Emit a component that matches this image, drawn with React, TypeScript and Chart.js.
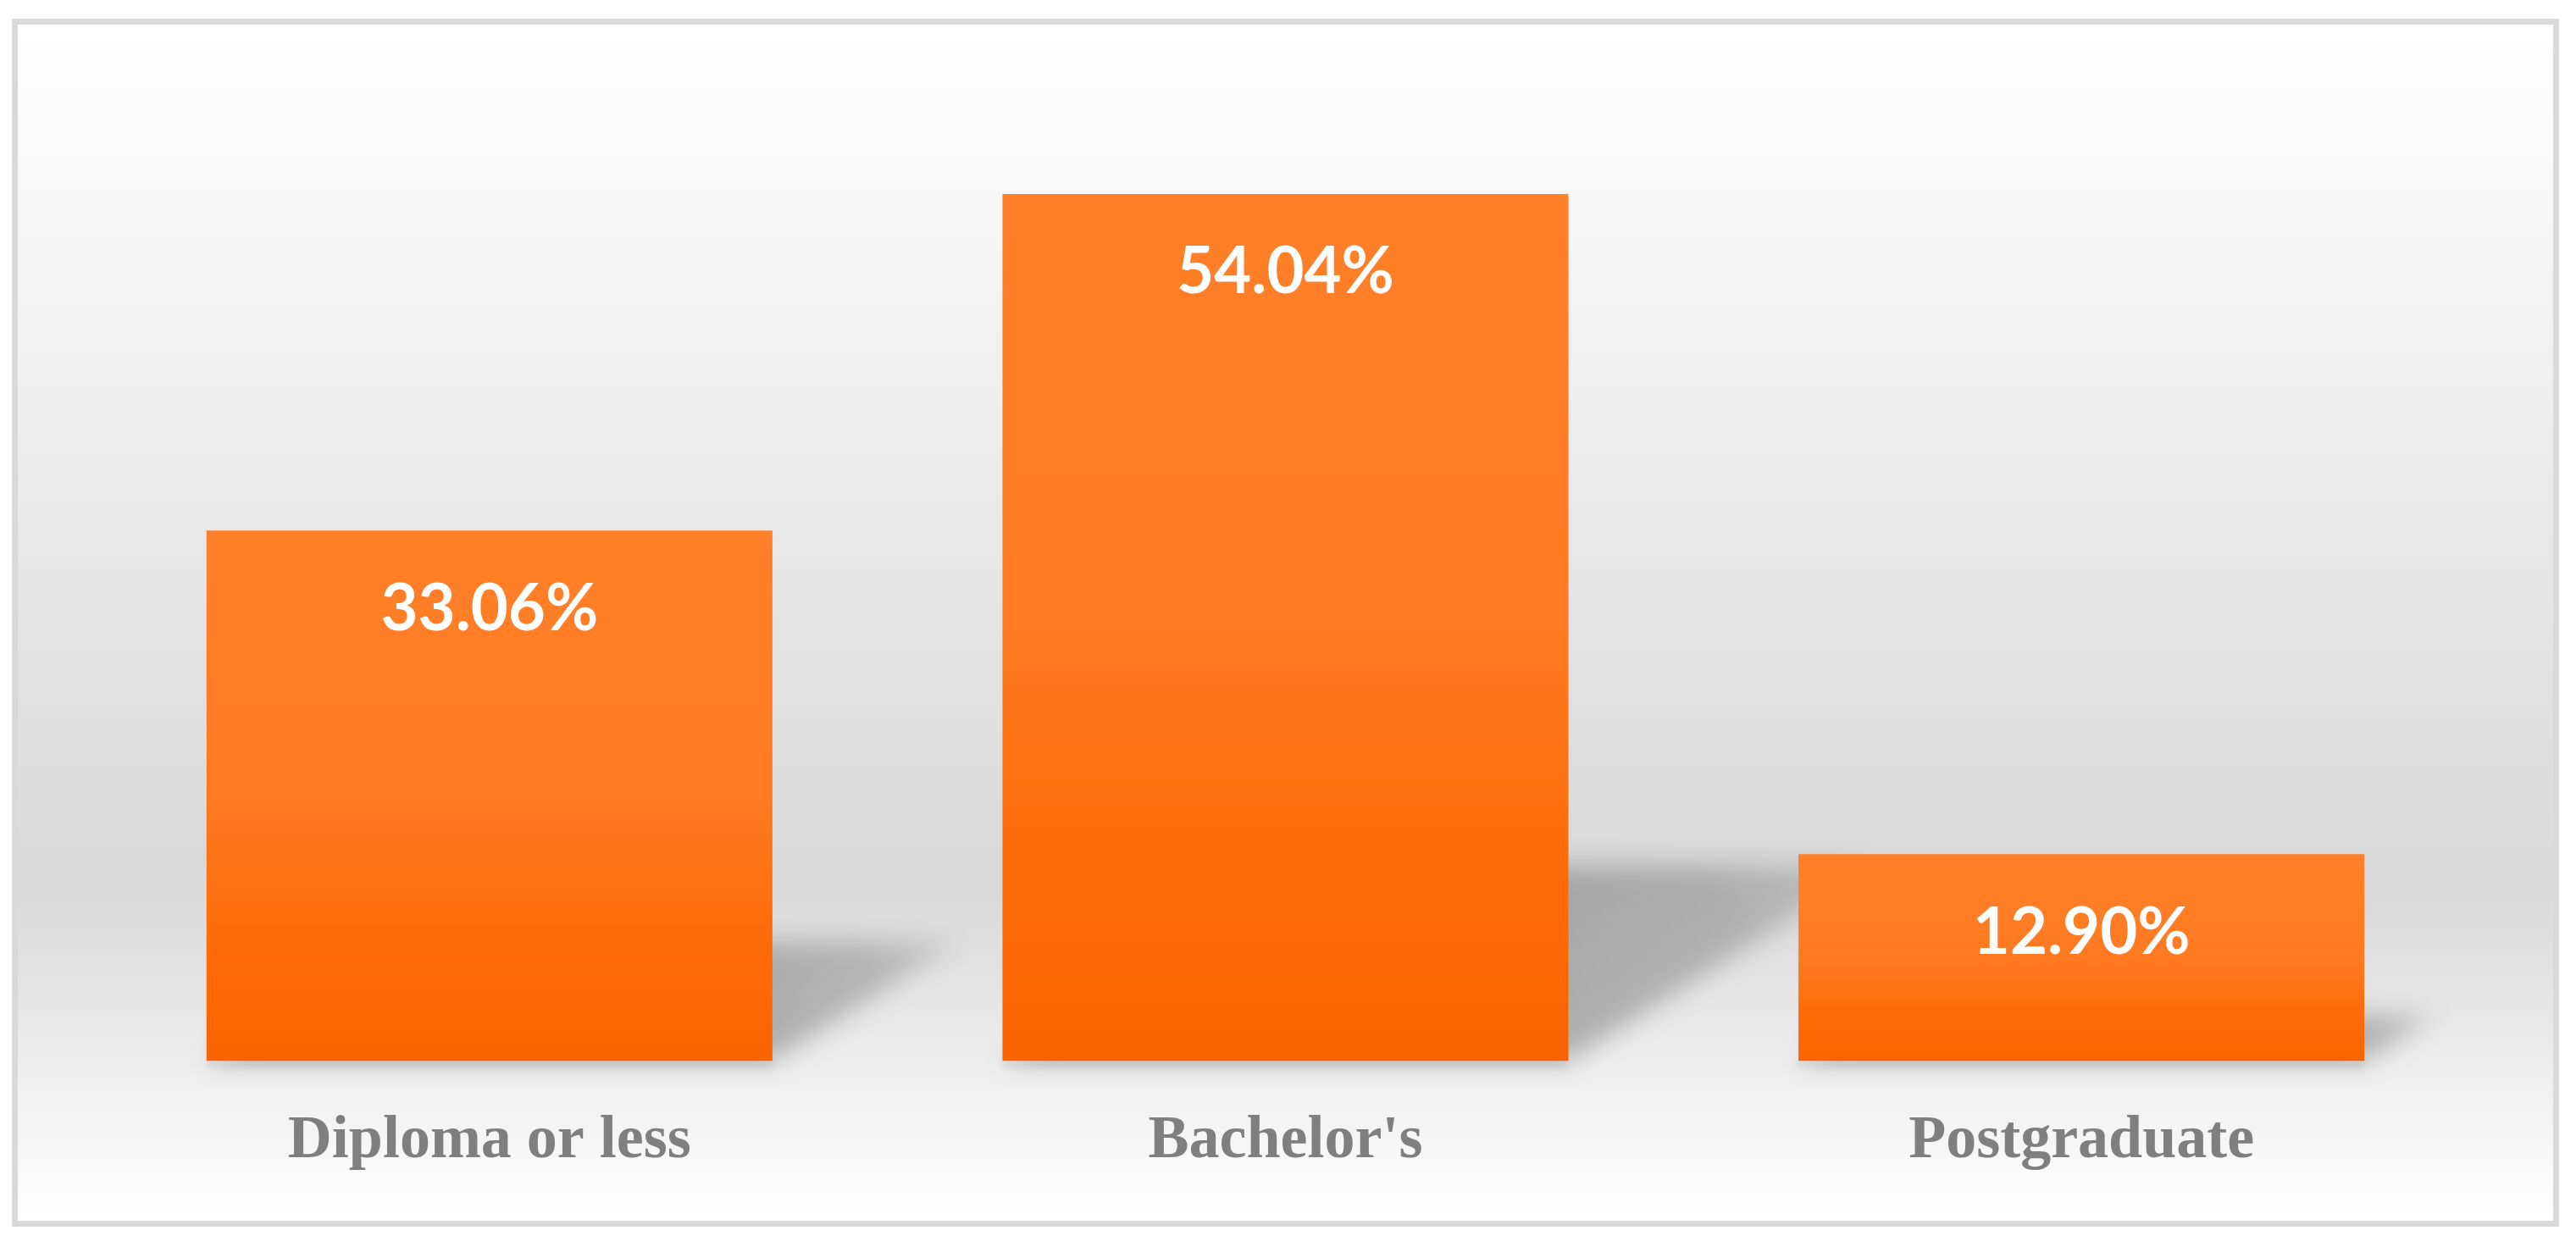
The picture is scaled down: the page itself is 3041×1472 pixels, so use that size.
import React, { useEffect, useRef } from "react";
import { Chart, registerables } from "chart.js";

Chart.register(...registerables);

// ---- Data ----
const categories = ["Diploma or less", "Bachelor's", "Postgraduate"];
const shares = [33.06, 54.04, 12.9];
const valueLabels = ["33.06%", "54.04%", "12.90%"];
const axisMin = 0;
const axisMax = 60;

const W = 3041;
const H = 1472;

const framePlugin = {
  id: "frame",
  beforeDraw(chart: any) {
    const ctx = chart.ctx;
    ctx.save();
    ctx.fillStyle = "#ffffff";
    ctx.fillRect(0, 0, W, H);
    const g = ctx.createLinearGradient(0, 29, 0, 1441);
    g.addColorStop(0, "#ffffff");
    g.addColorStop(0.72, "#d8d8d8");
    g.addColorStop(1, "#ffffff");
    ctx.fillStyle = g;
    ctx.fillRect(17.5, 25.5, 3000, 1419);
    ctx.strokeStyle = "#d9d9d9";
    ctx.lineWidth = 7;
    ctx.strokeRect(17.5, 25.5, 3000, 1419);
    ctx.restore();
  },
};

const shadowPlugin = {
  id: "perspectiveShadow",
  beforeDatasetsDraw(chart: any) {
    const ctx = chart.ctx;
    const meta = chart.getDatasetMeta(0);
    meta.data.forEach((bar: any) => {
      const { x, y, base, width } = bar.getProps(["x", "y", "base", "width"], true);
      const h = base - y;
      const l = x - width / 2;
      const r = x + width / 2;
      const dx = 0.35 * h;
      const dy = 0.225 * h;
      ctx.save();
      ctx.filter = "blur(15px)";
      const g = ctx.createLinearGradient(r, base, r + dx, base - dy);
      g.addColorStop(0, "rgba(0,0,0,0.25)");
      g.addColorStop(0.6, "rgba(0,0,0,0.2)");
      g.addColorStop(1, "rgba(0,0,0,0.1)");
      ctx.fillStyle = g;
      ctx.beginPath();
      ctx.moveTo(l, base);
      ctx.lineTo(r, base);
      ctx.lineTo(r + dx, base - dy);
      ctx.lineTo(l + dx, base - dy);
      ctx.closePath();
      ctx.fill();
      ctx.restore();
      // soft shadow under bar bottom
      ctx.save();
      ctx.filter = "blur(3px)";
      ctx.fillStyle = "rgba(0,0,0,0.06)";
      ctx.fillRect(l, base, width, 8);
      ctx.restore();
    });
  },
};

const labelPlugin = {
  id: "valueLabels",
  afterDatasetsDraw(chart: any) {
    const ctx = chart.ctx;
    const meta = chart.getDatasetMeta(0);
    ctx.save();
    ctx.fillStyle = "#ffffff";
    ctx.font = 'bold 76px Lato, "Open Sans", sans-serif';
    ctx.textAlign = "center";
    ctx.textBaseline = "middle";
    meta.data.forEach((bar: any, i: number) => {
      const { x, y } = bar.getProps(["x", "y"], true);
      ctx.fillText(valueLabels[i], x, y + 93);
    });
    ctx.restore();
  },
};

export default function App() {
  const ref = useRef<HTMLCanvasElement | null>(null);

  useEffect(() => {
    if (!ref.current) return;
    const chart = new Chart(ref.current, {
      type: "bar",
      data: {
        labels: categories,
        datasets: [
          {
            data: shares,
            borderWidth: 0,
            categoryPercentage: 1,
            barPercentage: 0.711,
            backgroundColor: (c: any) => {
              const ch = c.chart;
              const ys = ch.scales && ch.scales.y;
              if (!ys || !ch.chartArea) return "#fd7418";
              const v = shares[c.dataIndex] ?? 0;
              const top = ys.getPixelForValue(v);
              const bottom = ys.getPixelForValue(0);
              const g = ch.ctx.createLinearGradient(0, top, 0, bottom);
              g.addColorStop(0, "#ff8029");
              g.addColorStop(0.5, "#ff7a21");
              g.addColorStop(0.75, "#fe6c0a");
              g.addColorStop(1, "#fa6400");
              return g;
            },
          } as any,
        ],
      },
      options: {
        responsive: false,
        animation: false,
        devicePixelRatio: 1,
        layout: { padding: { top: 116, left: 108, right: 114, bottom: 29 } },
        plugins: {
          legend: { display: false },
          tooltip: { enabled: false },
        },
        scales: {
          x: {
            grid: { display: false, drawTicks: false },
            border: { display: false },
            ticks: {
              color: "#7f7f7f",
              font: { family: '"Liberation Serif", serif', size: 72, weight: "bold" },
              padding: 52,
            },
          },
          y: { display: false, min: axisMin, max: axisMax },
        },
      } as any,
      plugins: [framePlugin, shadowPlugin, labelPlugin],
    });
    return () => chart.destroy();
  }, []);

  return (
    <div style={{ position: "absolute", left: 0, top: 0, width: W, height: H }}>
      <canvas ref={ref} width={W} height={H} style={{ display: "block" }} />
    </div>
  );
}
